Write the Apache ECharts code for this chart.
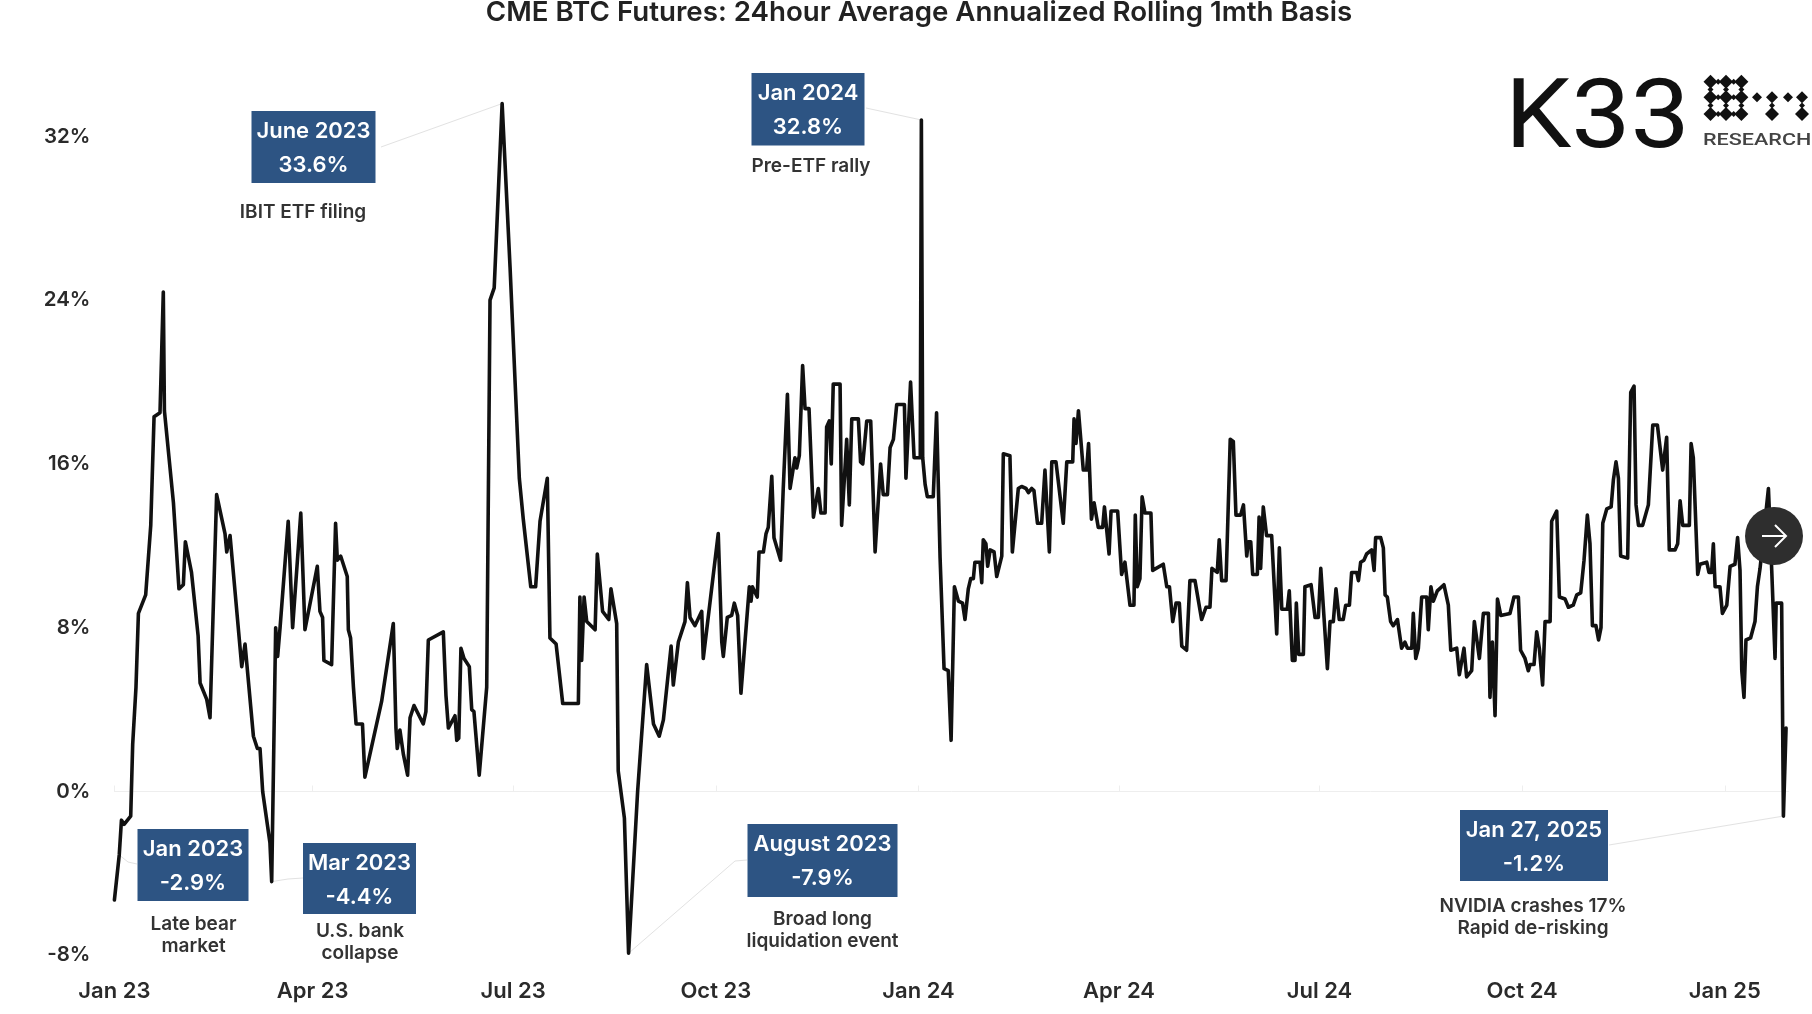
<!DOCTYPE html>
<html>
<head>
<meta charset="utf-8">
<title>CME BTC Futures basis</title>
<script src="https://cdn.jsdelivr.net/npm/echarts@6/dist/echarts.min.js"></script>
<style>
html, body { margin: 0; padding: 0; background: #fff; }
#main { width: 1812px; height: 1014px; }
</style>
</head>
<body>
<div id="main"></div>
<script>
// days since 1 Jan 2023
var days = [
    0,2.2,3.2,4.4,7.4,8.3,9.8,10.9,14.2,16.5,
    18,20.7,22.2,22.7,26.8,29.3,31.3,32.2,35,38,
    38.9,41.9,43.4,46.4,50.2,51,52.5,57.8,59.3,63.1,
    64.9,66.1,67.3,70.6,71.4,73.2,74.1,75.2,78.9,80.9,
    84.6,86.5,92.1,93.3,94.5,95.1,98.6,100.4,101.2,102.7,
    105.7,106.2,107.2,108.5,109.7,112.6,113.7,121.3,126.6,127.8,
    128.4,129.6,131.2,133.1,134.2,136,140.2,141.4,142.5,149.3,
    150.5,151.6,154.6,155.4,156.3,157.3,158.7,161.1,162.2,163.2,
    165.6,169,170.5,172.4,176,179.6,183.8,185.6,189,191.2,
    193.2,196.5,197.7,200.5,203.5,210.6,211.3,212.1,213.2,214.4,
    218.2,219.2,221.6,224.4,225.4,228,228.7,231.5,233.4,237.5,
    241.6,244.7,247.3,249.2,252.7,253.7,256,259,260.1,261.3,
    263.5,266.6,267.3,274.1,275.7,276.4,278.2,280.2,281.4,282.9,
    284.4,288.2,289,289.6,291.8,292.6,294.6,295.8,296.8,298.4,
    299.4,302.4,303.6,305.5,306.7,308.9,309.7,310.9,312.4,313.5,
    315.3,317.3,319.5,320.7,322.6,323.3,324.5,325.4,326.3,329.4,
    330.1,332.4,333.6,334.7,337.7,338.7,339.7,341.5,343.3,345.3,
    347.8,349,350.9,352.1,353.6,355.1,358.6,359.3,361.4,363,
    365.8,366.3,366.9,368,369,371.7,373.2,374.8,376.6,378.5,
    379.8,381.3,383.1,385,386.1,387.6,388.7,389.9,390.6,392.9,
    393.7,394.4,395.6,396.4,397.5,399.3,400.5,402.8,403.5,406.5,
    407.6,410.3,411.8,413.8,414.9,416.4,417.4,419,420.9,422.4,
    424.4,425.5,427.4,430.7,432.3,435,435.6,436.5,437.6,439.8,
    441.3,442.2,443.5,444.7,446.6,448.6,449.4,451.5,452.4,455.4,
    457.2,458.7,461,462.8,463.4,464.3,465.5,466.5,467.8,470.5,
    471.3,476.1,477.7,478.9,480.4,481.9,483.4,484.5,486.7,488.2,
    490.5,493.5,495.5,497.3,498.2,500.6,501.5,502.6,504.6,506.5,
    507.9,509.1,511.2,512.5,514,514.7,515.8,516.7,518.8,519.6,
    520.3,521.5,523,525.3,527.6,528.8,529.9,532.4,533.3,534.7,
    535.9,536.5,537.6,539.7,540.4,543.2,545,546.5,547.6,550.6,
    551.8,553.3,554.5,556,557.8,558.9,560.6,561.6,563.9,564.7,
    565.7,567.2,568.4,570.7,571.8,572.5,574.8,576,576.8,577.8,
    579.3,580.5,582.4,584.3,585.8,586.9,588.9,589.6,590.7,591.9,
    593.4,595.7,596.4,597.6,598.7,600.5,603.5,605.5,606.6,609.3,
    610.5,612.6,613.8,616.1,617.3,619.6,621.4,623.7,624.4,625.5,
    626.7,627.8,629.3,633.5,635.3,637.3,638.3,640.3,641.8,642.6,
    644.4,645.6,646.8,648.3,649.4,651.7,652.4,654.7,655.9,658.5,
    660,662.2,663.8,665.6,667.1,668.6,669.8,670.9,672.5,673.7,
    674.8,675.6,677.4,679.4,680.4,681.6,682.7,683.7,686.9,688.3,
    689.8,690.7,691.8,693.7,696.3,698.3,700.4,702.8,703.6,704.6,
    705.8,708.4,709.6,710.7,711.9,714.9,715.7,716.7,718.7,719.7,
    722.8,723.8,725,725.8,726.6,728.8,729.9,731.9,733.4,735.6,
    736.8,737.9,738.7,739.7,740.6,742.7,744.7,745.8,747,750.8,
    752.3,753.8,754.3,756.8,757.6,758.8
];
// annualized basis in %
var basis = [
    -5.3,-3.1,-1.4,-1.6,-1.2,2.3,5.1,8.7,9.6,13,
    18.3,18.5,24.4,18.6,14.1,9.9,10.1,12.2,10.7,7.6,
    5.3,4.5,3.6,14.5,12.6,11.7,12.5,6.1,7.2,2.7,
    2.1,2.1,0,-2.5,-4.4,8,6.6,8,13.2,8,
    13.6,7.9,11,8.8,8.5,6.4,6.2,13.1,11.3,11.5,
    10.5,7.9,7.5,5.1,3.3,3.3,0.7,4.4,8.2,3.1,
    2.1,3,1.8,0.8,3.6,4.2,3.3,3.9,7.4,7.8,
    4.7,3.1,3.7,2.5,2.6,7,6.5,6.1,4,3.9,
    0.8,5.1,24,24.6,33.6,25.6,15.3,13.3,10,10,
    13.2,15.3,7.5,7.2,4.3,4.3,9.5,6.4,9.5,8.3,
    7.9,11.6,8.8,8.4,9.9,8.2,1,-1.3,-7.9,0,
    6.2,3.3,2.7,3.5,7.1,5.2,7.3,8.3,10.2,8.5,
    8.1,8.8,6.5,12.6,7.3,6.6,8.5,8.6,9.2,8.6,
    4.8,10,9.3,10,9.5,11.7,11.7,12.6,12.9,15.4,
    12.4,11.3,14.8,19.4,14.8,16.3,15.8,16.4,20.8,18.7,
    18.7,13.4,14.8,13.6,13.6,17.8,18.1,16,19.9,19.9,
    13,17.2,14,18.2,18.2,16.1,16,18.1,18.1,11.7,
    16,14.5,14.5,16.8,17.2,18.9,18.9,15.3,20,16.3,
    16.3,32.8,16.3,15,14.4,14.4,18.5,11.4,6,5.9,
    2.5,10,9.3,9.2,8.4,9.9,10.4,10.4,11.2,11.2,
    10.2,12.3,12.1,11,11.8,11.7,10.5,11.5,16.5,16.4,
    11.7,14.8,14.9,14.8,14.6,14.8,14.7,13.1,13.1,15.7,
    11.7,16.1,16.1,13.1,16.1,16.1,18.2,17,18.6,15.7,
    15.7,17,13.3,14.1,12.9,12.9,13.9,11.6,13.7,13.7,
    10.6,11.2,9.1,9.1,13.5,10,10.4,14.4,13.6,13.6,
    10.8,11.1,10,10,8.3,9.2,9.2,7.1,6.9,10.3,
    10.3,8.4,9,9,10.9,10.7,12.3,10.3,10.3,17.2,
    17.1,13.5,13.5,14,11.5,12.2,12.2,10.6,10.6,13.4,
    10.9,13.9,12.5,12.5,7.7,11.9,8.9,8.9,9.8,6.4,
    6.4,9.2,6.7,6.7,10,10.1,8.5,8.5,10.9,6,
    8.3,8.3,9.9,8.4,8.4,9.1,9.1,10.7,10.7,10.3,
    11.2,11.3,11.6,11.8,10.8,12.4,12.4,11.9,9.6,9.5,
    8.3,8.1,8.4,7,7.3,7,7,8.7,6.5,7,
    9.5,9.5,7.9,10,9.3,9.8,10.1,9.1,6.9,7,
    5.7,7,5.6,5.9,8.3,6.5,8.7,8.7,4.6,7.3,
    3.7,9.4,8.6,8.7,9.5,9.5,6.9,6.5,5.9,6.2,
    6.2,7.8,7,5.2,8.3,8.3,13.2,13.7,9.5,9.4,
    9,9.1,9.6,9.7,11.3,13.5,12.1,8.1,8.1,7.4,
    8,13.1,13.8,13.9,15.2,16.1,15.3,11.5,11.4,19.5,
    19.8,14,13,13,14,17.9,17.9,15.7,15.7,17.3,
    11.8,11.8,12.1,14.2,13,13,17,16.3,10.6,11.1,
    11.2,10.7,10.7,12.1,10,10,8.7,9.1,11,11.1,
    12.4,10.8,5.9,4.6,7.4,7.5,8.3,10,10.9,14.8,
    10.8,6.5,9.2,9.2,-1.2,3.1
];
var tickDays = [0, 90, 181, 273, 365, 456, 547, 639, 731];
var tickLabels = ['Jan 23', 'Apr 23', 'Jul 23', 'Oct 23', 'Jan 24', 'Apr 24', 'Jul 24', 'Oct 24', 'Jan 25'];
var yTicks = [-8, 0, 8, 16, 24, 32];
var titleText = 'CME BTC Futures: 24hour Average Annualized Rolling 1mth Basis';

// callout boxes: text, box rect in page pixels, the point on the line they refer to
var callouts = [
    {head: 'June 2023', val: '33.6%', note: ['IBIT ETF filing'], box: [251.5, 111, 124, 72], at: [176, 33.6], from: [381, 147], noteX: 303, noteY: 212},
    {head: 'Jan 2024', val: '32.8%', note: ['Pre-ETF rally'], box: [751.5, 73, 113, 72.5], at: [366.3, 32.8], from: [866, 108], noteX: 811, noteY: 166},
    {head: 'Jan 2023', val: '-2.9%', note: ['Late bear', 'market'], box: [137.5, 829, 111, 72], at: [2.2, -3.1], from: [137, 864], mid: [128, 862], noteX: 193.5, noteY: 924},
    {head: 'Mar 2023', val: '-4.4%', note: ['U.S. bank', 'collapse'], box: [303, 843, 113, 71], at: [71.4, -4.4], from: [303, 878], mid: [288, 879], noteX: 360, noteY: 931},
    {head: 'August 2023', val: '-7.9%', note: ['Broad long', 'liquidation event'], box: [747.5, 824, 150, 73], at: [233.4, -7.9], from: [747, 860], mid: [735, 861], noteX: 822.5, noteY: 919},
    {head: 'Jan 27, 2025', val: '-1.2%', note: ['NVIDIA crashes 17%', 'Rapid de-risking'], box: [1460, 810, 148, 71], at: [757.6, -1.2], from: [1609, 845], noteX: 1533, noteY: 906}
];

var fontName = 'Inter';
var lineData = days.map(function (d, i) { return [d, basis[i]]; });

var myChart = echarts.init(document.getElementById('main'));
myChart.setOption({
    animation: false,
    backgroundColor: '#fff',
    title: {
        text: titleText,
        left: 914,
        top: -6,
        textAlign: 'center',
        textStyle: {fontFamily: fontName, fontSize: 27.7, fontWeight: 600, color: '#222'}
    },
    grid: {left: 114.4, right: 23.3, top: 95.4, bottom: 58.7},
    xAxis: [{
        type: 'value',
        min: 0,
        max: 760,
        splitLine: {show: false},
        axisLine: {show: false, onZero: false},
        axisTick: {show: false},
        axisLabel: {
            customValues: tickDays,
            margin: 25,
            fontFamily: fontName,
            fontSize: 22,
            fontWeight: 600,
            color: '#2a2a2a',
            formatter: function (v) { return tickLabels[tickDays.indexOf(v)]; }
        }
    }, {
        // the faint zero line with its ticks
        type: 'value',
        min: 0,
        max: 760,
        splitLine: {show: false},
        axisLine: {show: true, onZero: true, lineStyle: {color: '#eeeeee', width: 1}},
        axisTick: {show: true, customValues: tickDays, length: 6, lineStyle: {color: '#eeeeee'}},
        axisLabel: {show: false}
    }],
    yAxis: {
        type: 'value',
        min: -8,
        max: 34,
        splitLine: {show: false},
        axisLine: {show: false},
        axisTick: {show: false},
        axisLabel: {
            customValues: yTicks,
            margin: 24,
            fontFamily: fontName,
            fontSize: 20.5,
            fontWeight: 600,
            color: '#2a2a2a',
            padding: [2, 0, 0, 0],
            formatter: '{value}%'
        }
    },
    series: [{
        type: 'line',
        data: lineData,
        showSymbol: false,
        clip: false,
        lineStyle: {color: '#111', width: 3.6, join: 'round', cap: 'round'}
    }]
});

// diamonds of the logo mark
function diamond(cx, cy, r) {
    return {
        type: 'polygon',
        z: 50,
        shape: {points: [[cx, cy - r], [cx + r, cy], [cx, cy + r], [cx - r, cy]]},
        style: {fill: '#111'}
    };
}

var gfx = [];
callouts.forEach(function (c) {
    var end = myChart.convertToPixel({xAxisIndex: 0, yAxisIndex: 0}, c.at);
    var pts = c.mid ? [c.from, c.mid, end] : [c.from, end];
    gfx.push({type: 'polyline', z: 1, shape: {points: pts}, style: {stroke: '#e2e2e2', lineWidth: 1, fill: null}});
    gfx.push({type: 'rect', z: 60, shape: {x: c.box[0], y: c.box[1], width: c.box[2], height: c.box[3]}, style: {fill: '#2d5483'}});
    var cx = c.box[0] + c.box[2] / 2;
    gfx.push({type: 'text', z: 61, x: cx, y: c.box[1] + 20.5, style: {text: c.head, fill: '#fff', font: '600 22px ' + fontName, align: 'center', verticalAlign: 'middle'}});
    gfx.push({type: 'text', z: 61, x: cx, y: c.box[1] + 54.5, style: {text: c.val, fill: '#fff', font: '600 22px ' + fontName, align: 'center', verticalAlign: 'middle'}});
    c.note.forEach(function (t, i) {
        gfx.push({type: 'text', z: 61, x: c.noteX, y: c.noteY + i * 22, style: {text: t, fill: '#333', font: '600 19px ' + fontName, align: 'center', verticalAlign: 'middle'}});
    });
});

// K33 logo
gfx.push({type: 'text', z: 50, x: 1505, y: 123, scaleX: 1.1, style: {text: 'K33', fill: '#111', font: '400 96px Roboto', align: 'left', verticalAlign: 'middle'}});
[81.7, 97.3, 114].forEach(function (y) {
    [1710.5, 1726, 1741.4].forEach(function (x) { gfx.push(diamond(x, y, 7)); });
    [1718.2, 1733.7].forEach(function (x) { gfx.push(diamond(x, y, 3)); });
});
[89.5, 105.5].forEach(function (y) {
    [1710.5, 1726, 1741.4].forEach(function (x) { gfx.push(diamond(x, y, 3)); });
});
gfx.push(diamond(1757, 97.3, 5), diamond(1772, 97.3, 6), diamond(1788, 97.3, 5), diamond(1802, 97.3, 6));
gfx.push(diamond(1772, 114, 7), diamond(1802, 114, 7), diamond(1772, 105.5, 3), diamond(1802, 105.5, 3));
gfx.push({type: 'text', z: 50, x: 1703, y: 141, scaleX: 1.27, style: {text: 'RESEARCH', fill: '#444', font: '500 17px Roboto', align: 'left', verticalAlign: 'middle'}});

// the round "next" button sitting on top of the chart
gfx.push({type: 'circle', z: 70, shape: {cx: 1774, cy: 536, r: 29}, style: {fill: '#2e2e2e'}});
gfx.push({type: 'polyline', z: 71, shape: {points: [[1762, 536], [1786, 536]]}, style: {stroke: '#fff', lineWidth: 2, fill: null}});
gfx.push({type: 'polyline', z: 71, shape: {points: [[1775, 525], [1786, 536], [1775, 547]]}, style: {stroke: '#fff', lineWidth: 2, fill: null}});

myChart.setOption({graphic: {elements: gfx}});
</script>
</body>
</html>
